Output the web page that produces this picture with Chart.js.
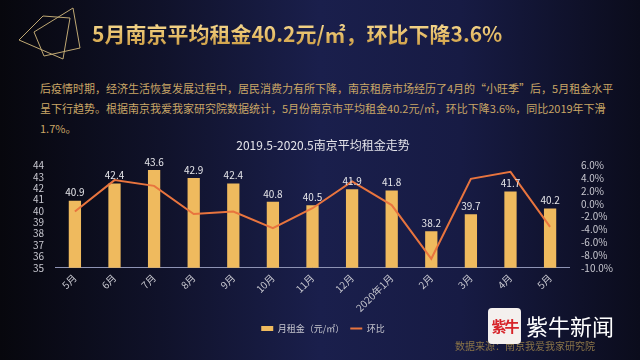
<!DOCTYPE html>
<html>
<head>
<meta charset="utf-8">
<script src="https://cdn.jsdelivr.net/npm/chart.js@4/dist/chart.umd.min.js"></script>
<style>
  html, body { margin: 0; padding: 0; }
  body {
    width: 640px; height: 360px; overflow: hidden; position: relative;
    font-family: "Noto Sans CJK SC", "Noto Sans", sans-serif;
    background: linear-gradient(90deg, #07070d 0%, #10122a 25%, #1a1f4c 50%, #171b44 72%, #0b0c1c 100%);
  }
  #deco { position: absolute; left: 0; top: 0; }
  #title {
    position: absolute; left: 92px; top: 18px; margin: 0;
    font-size: 21px; font-weight: bold; letter-spacing: 0px;
    background: linear-gradient(180deg, #fbe3a0 0%, #e7bf6a 55%, #c8983f 100%);
    -webkit-background-clip: text; background-clip: text; color: transparent;
  }
  #intro {
    position: absolute; left: 40px; top: 78px; width: 570px; margin: 0;
    font-size: 11px; line-height: 20px; color: #c9a666; white-space: nowrap;
  }
  #wrap { position: absolute; left: 0; top: 134px; width: 640px; height: 213px; }
  #logoBox {
    position: absolute; left: 488px; top: 308px; width: 33px; height: 36px;
    background: #f4f0ee; border-radius: 4px; color: #d7242a;
    font-size: 15px; font-weight: bold; text-align: center; line-height: 36px; letter-spacing: -2px;
  }
  #logoText {
    position: absolute; left: 526px; top: 309px; color: #ffffff;
    font-size: 22px; font-family: "Noto Sans CJK SC", serif;
  }
  #source {
    position: absolute; left: 455px; top: 338px; color: #8a7448; font-size: 10px;
  }
</style>
</head>
<body>
<svg id="deco" width="100" height="75">
  <polygon points="19,40 43,16 70,18 63,59" fill="none" stroke="#bfa873" stroke-width="1"/>
  <polygon points="34,32 73,8 80,48 44,56" fill="none" stroke="#bfa873" stroke-width="1"/>
</svg>
<h1 id="title">5月南京平均租金40.2元/㎡，环比下降3.6%</h1>
<p id="intro">后疫情时期，经济生活恢复发展过程中，居民消费力有所下降，南京租房市场经历了4月的“小旺季”后，5月租金水平<br>呈下行趋势。根据南京我爱我家研究院数据统计，5月份南京市平均租金40.2元/㎡，环比下降3.6%，同比2019年下滑<br>1.7%。</p>
<div id="wrap"><canvas id="rentChart"></canvas></div>
<div id="source">数据来源：南京我爱我家研究院</div>
<div id="logoBox">紫牛</div>
<div id="logoText">紫牛新闻</div>

<script>
const months = ['5月', '6月', '7月', '8月', '9月', '10月', '11月', '12月', '2020年1月', '2月', '3月', '4月', '5月'];
const rent = [40.9, 42.4, 43.6, 42.9, 42.4, 40.8, 40.5, 41.9, 41.8, 38.2, 39.7, 41.7, 40.2];
const momChange = [-1.2, 3.7, 2.8, -1.6, -1.2, -3.8, -0.7, 3.5, -0.2, -8.6, 3.9, 5.0, -3.6];
const rentTicks = [35, 44];
const pctTicks = [-10, 6];

const barLabels = {
    id: 'barLabels',
    afterDatasetsDraw(chart) {
        const ctx = chart.ctx;
        const meta = chart.getDatasetMeta(0);
        ctx.save();
        ctx.font = '10px "Noto Sans CJK SC", sans-serif';
        ctx.fillStyle = '#e6e6ea';
        ctx.textAlign = 'center';
        ctx.textBaseline = 'bottom';
        meta.data.forEach(function(bar, i) {
            ctx.fillText(rent[i].toFixed(1), bar.x, bar.y - 3);
        });
        ctx.restore();
    }
};

const tickFont = { size: 10, family: '"Noto Sans CJK SC", sans-serif' };

const ctx = document.getElementById('rentChart').getContext('2d');
const myChart = new Chart(ctx, {
    type: 'bar',
    data: {
        labels: months,
        datasets: [{
            type: 'bar',
            label: '月租金（元/㎡）',
            data: rent,
            backgroundColor: '#efba5e',
            borderWidth: 0,
            barPercentage: 0.31,
            categoryPercentage: 1,
            yAxisID: 'y',
            order: 2
        }, {
            type: 'line',
            label: '环比',
            data: momChange,
            borderColor: '#e8743e',
            backgroundColor: '#e8743e',
            borderWidth: 2,
            tension: 0,
            pointRadius: 0,
            yAxisID: 'y1',
            order: 1
        }]
    },
    options: {
        responsive: true,
        maintainAspectRatio: false,
        animation: false,
        layout: { padding: { left: 30, right: 24, top: 0, bottom: 4 } },
        plugins: {
            title: {
                display: true,
                text: '2019.5-2020.5南京平均租金走势',
                color: '#e4e4ea',
                font: { size: 12, family: '"Noto Sans CJK SC", sans-serif', weight: 'normal' },
                padding: { top: 4, bottom: 13 }
            },
            legend: {
                position: 'bottom',
                labels: {
                    color: '#c8c8d0',
                    usePointStyle: true,
                    pointStyleWidth: 12,
                    boxHeight: 5,
                    font: { size: 9, family: '"Noto Sans CJK SC", sans-serif' },
                    padding: 6,
                    sort: function(a, b) { return a.datasetIndex - b.datasetIndex; },
                    generateLabels: function(chart) {
                        const items = Chart.defaults.plugins.legend.labels.generateLabels(chart);
                        items.forEach(function(item) {
                            if (item.datasetIndex === 0) {
                                item.pointStyle = 'rect';
                                item.lineWidth = 0;
                            } else {
                                item.pointStyle = 'line';
                                item.lineWidth = 2;
                                item.strokeStyle = '#e8743e';
                            }
                        });
                        return items;
                    }
                }
            },
            tooltip: { enabled: false }
        },
        scales: {
            x: {
                grid: { display: false, drawTicks: false },
                border: { color: '#8e93b4', width: 1 },
                ticks: {
                    color: '#c8c8d0',
                    font: tickFont,
                    maxRotation: 45,
                    minRotation: 45,
                    padding: 4
                }
            },
            y: {
                position: 'left',
                min: rentTicks[0],
                max: rentTicks[1],
                grid: { display: false },
                border: { display: false },
                ticks: {
                    stepSize: 1,
                    autoSkip: false,
                    color: '#c8c8d0',
                    font: tickFont,
                    padding: 3
                }
            },
            y1: {
                position: 'right',
                min: pctTicks[0],
                max: pctTicks[1],
                grid: { display: false },
                border: { display: false },
                ticks: {
                    stepSize: 2,
                    autoSkip: false,
                    color: '#c8c8d0',
                    font: tickFont,
                    padding: 3,
                    callback: function(v) { return v.toFixed(1) + '%'; }
                }
            }
        }
    },
    plugins: [barLabels]
});
</script>
</body>
</html>
